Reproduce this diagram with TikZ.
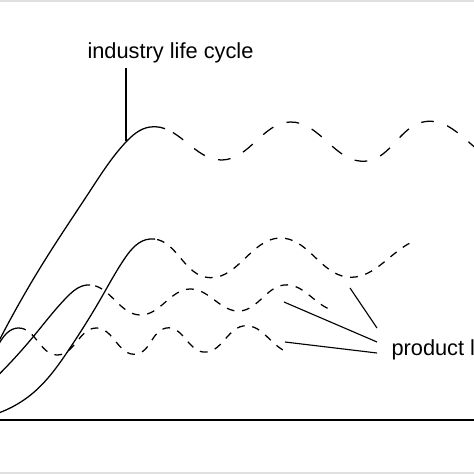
\documentclass[tikz,border=0pt]{standalone}
\usepackage{fontspec}
\setmainfont{Liberation Sans}
\usetikzlibrary{hobby}

\tikzset{
	lifeline/.style={line width=0.9pt},
	industrydash/.style={lifeline, dash pattern=on 9pt off 10pt},
	productdash/.style={lifeline, dash pattern=on 5.5pt off 5.5pt},
	cyclelabel/.style={font=\fontsize{15.5}{18}\selectfont, inner sep=3.8pt},
}

\begin{document}
\begin{tikzpicture}[x=0.025cm, y=-0.025cm, line width=0.8pt]

\useasboundingbox (0,0) rectangle (474,474);
\fill [black!12] (0,0) rectangle (474,2);
\fill [black!12] (0,472) rectangle (474,474);

\draw [line width=1.3pt] (0,420) to (474,420);

%%%%%%%%%%%%%%%%%%%%%%%%%%%%%%%%%%%%%%%%%%

\path [save path=\industrycurve] (-15,369) to [curve through={
	   (45, 260)
	.. (90, 191)
	.. (125,143)
	.. (150,127)
	.. (222,160)
	.. (290,122)
	.. (367,161)
	.. (423,122)
	.. (497,161)
}] (560,122);
\begin{scope}
	\clip (-30,0) rectangle (165,474);
	\draw [lifeline, use path=\industrycurve];
\end{scope}
\begin{scope}
	\clip (165,0) rectangle (600,474);
	\draw [industrydash, use path=\industrycurve];
\end{scope}

\node [cyclelabel, anchor=base] (ilc) at (170.5,58) {industry life cycle};
\coordinate (ifoot) at (126,141);
\draw (ifoot) to (ifoot |- ilc.south);

%%%%%%%%%%%%%%%%%%%%%%%%%%%%%%%%%%%%%%%%%%

\path [save path=\productb] (-20,418) to [curve through={
	   (33, 393)
	.. (70, 348)
	.. (100,300)
	.. (125,258)
	.. (150,239)
	.. (205,277)
	.. (280,238)
	.. (347,277)
	.. (410,243)
}] (450,238);
\begin{scope}
	\clip (-30,0) rectangle (155,474);
	\draw [lifeline, use path=\productb];
\end{scope}
\begin{scope}
	\clip (155,0) rectangle (412,474);
	\draw [productdash, use path=\productb];
\end{scope}

%%%%%%%%%%%%%%%%%%%%%%%%%%%%%%%%%%%%%%%%%%

\path [save path=\producta] (-15,388) to [curve through={
	   (33, 337)
	.. (67, 297)
	.. (87, 285)
	.. (140,315)
	.. (190,289)
	.. (240,311)
	.. (284,285)
	.. (327,308)
}] (345,312);
\begin{scope}
	\clip (-30,0) rectangle (90,474);
	\draw [lifeline, use path=\producta];
\end{scope}
\begin{scope}
	\clip (90,0) rectangle (328,474);
	\draw [productdash, use path=\producta];
\end{scope}

%%%%%%%%%%%%%%%%%%%%%%%%%%%%%%%%%%%%%%%%%%

\path [save path=\productc] (-10,362) to [curve through={
	   (0,  342)
	.. (18, 328)
	.. (57, 355)
	.. (97, 328)
	.. (137,354)
	.. (166,328)
	.. (203,352)
	.. (243,326)
	.. (283,350)
}] (300,354);
\begin{scope}
	\clip (-30,0) rectangle (21,474);
	\draw [lifeline, use path=\productc];
\end{scope}
\begin{scope}
	\clip (21,0) rectangle (284,474);
	\draw [productdash, use path=\productc];
\end{scope}

%%%%%%%%%%%%%%%%%%%%%%%%%%%%%%%%%%%%%%%%%%

\node [cyclelabel, anchor=base west] (plc) at (385.6,355) {product life cycle};

\coordinate (pb) at (350,288);
\coordinate (pa) at (284,302);
\coordinate (pc) at (285,342);
\coordinate (pe1) at (377,328);
\coordinate (pe2) at (377,342);
\coordinate (pe3) at (377,353);

\draw (pb) to (pe1);
\draw (pa) to (pe2);
\draw (pc) to (pe3);

\end{tikzpicture}
\end{document}
